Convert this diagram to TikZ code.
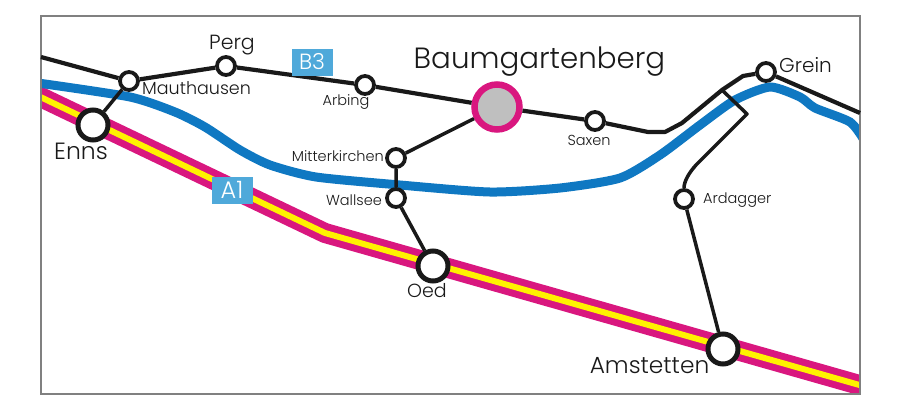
\documentclass[tikz,border=0pt]{standalone}
\usepackage{fontspec}
\setmainfont{Poppins Light}
\definecolor{autobahn}{HTML}{D9177F}
\definecolor{mittel}{HTML}{FFF200}
\definecolor{donau}{HTML}{0F78C2}
\definecolor{schild}{HTML}{4FA9DA}
\tikzset{
  ort/.style={circle,draw=black!90,fill=white,line width=3.8pt,inner sep=0pt,minimum size=18pt},
  stadt/.style={circle,draw=black!90,fill=white,line width=5pt,inner sep=0pt,minimum size=30pt},
  strasse/.style={draw=black!90,line width=4.2pt,line join=round},
  quer/.style={draw=black!90,line width=3.5pt,line join=round},
  schildbox/.style={fill=schild,text=white,inner sep=0pt,minimum width=41pt,minimum height=27pt},
  txt/.style={inner sep=0pt,text=black!90},
}
\begin{document}
\begin{tikzpicture}[x=1pt,y=-1pt]
\useasboundingbox (0,0) rectangle (900,416);
\begin{scope}
    \clip (41,16) rectangle (860,394);
    % A1
    \draw[autobahn,line width=20pt,line join=round] (30,92)--(325,233)--(870,388);
    \draw[mittel,line width=6pt,line join=round] (30,92)--(325,233)--(870,388);
    % Donau
    \draw[donau,line width=9pt] plot[smooth,tension=0.4] coordinates {(38,83) (130,97) (175,112)
      (205,127) (240,150) (270,165) (316,177) (400,185) (490,192) (560,188) (620,178)
      (660,155) (700,125) (735,100) (770,87) (800,97) (815,108) (850,122) (864,140)};
\end{scope}
\draw[gray,line width=1.3pt] (41,16) rectangle (860,394);
% Orte
\node[ort] (mauthausen) at (129,81){};
\node[ort] (perg) at (226,66){};
\node[ort] (arbing) at (365,85){};
\node[circle,draw=autobahn,fill=black!25,line width=6.5pt,inner sep=0pt,minimum size=45pt] (baumgartenberg) at (497,107){};
\node[ort] (saxen) at (595,121){};
\node[ort] (grein) at (766,72){};
\node[ort] (mitterkirchen) at (396,158){};
\node[ort] (wallsee) at (396,198){};
\node[ort] (ardagger) at (684,199){};
\node[stadt] (enns) at (93,125){};
\node[stadt] (oed) at (433,266){};
\node[stadt] (amstetten) at (723,349){};
\coordinate (westrand) at (41,57);
\coordinate (ostrand) at (860,113);
\coordinate (abzw) at (722,90);
\coordinate (knick) at (747,114);
% Strassen
\draw[strasse] (westrand)--(mauthausen)--(perg)--(arbing)--(baumgartenberg)--(saxen)
  --(648,132)--(665,132)--(682,123)--(abzw)--(743,76)--(grein)--(ostrand);
\draw[quer] (enns)--(mauthausen);
\draw[quer] (baumgartenberg)--(mitterkirchen)--(wallsee)--(oed);
\draw[quer] (amstetten)--(ardagger);
\draw[quer] (ardagger) .. controls (684,182) and (688,174) .. (696,165)--(knick)--(abzw);
% Schilder
\node[schildbox,font=\fontsize{22}{22}\selectfont] (b3) at (312,62){B3};
\node[schildbox,font=\fontsize{24}{24}\selectfont] (a1) at (232,190){A1};
% Namen
\node[txt,font=\fontsize{29.3}{29}\selectfont] (tbaum) at (539.5,62){Baumgartenberg};
\node[txt,font=\fontsize{20.5}{20}\selectfont] (tperg) at (232,45){Perg};
\node[txt,font=\fontsize{20}{20}\selectfont,anchor=west] (tgrein) at (779,65){Grein};
\node[txt,font=\fontsize{17.5}{17}\selectfont,anchor=west] (tmaut) at (142,88){Mauthausen};
\node[txt,font=\fontsize{23.5}{23}\selectfont] (tenns) at (81,151){Enns};
\node[txt,font=\fontsize{14.5}{14}\selectfont] (tarbing) at (346,102){Arbing};
\node[txt,font=\fontsize{14.5}{14}\selectfont] (tsaxen) at (589,140){Saxen};
\node[txt,font=\fontsize{14.5}{14}\selectfont,anchor=east] (tmitter) at (384,156){Mitterkirchen};
\node[txt,font=\fontsize{14.5}{14}\selectfont,anchor=east] (twall) at (382,200){Wallsee};
\node[txt,font=\fontsize{14.5}{14}\selectfont,anchor=west] (tarda) at (703,200){Ardagger};
\node[txt,font=\fontsize{19}{19}\selectfont] (toed) at (427,291){Oed};
\node[txt,font=\fontsize{23.3}{23}\selectfont] (tamst) at (649.5,366){Amstetten};
\end{tikzpicture}
\end{document}
